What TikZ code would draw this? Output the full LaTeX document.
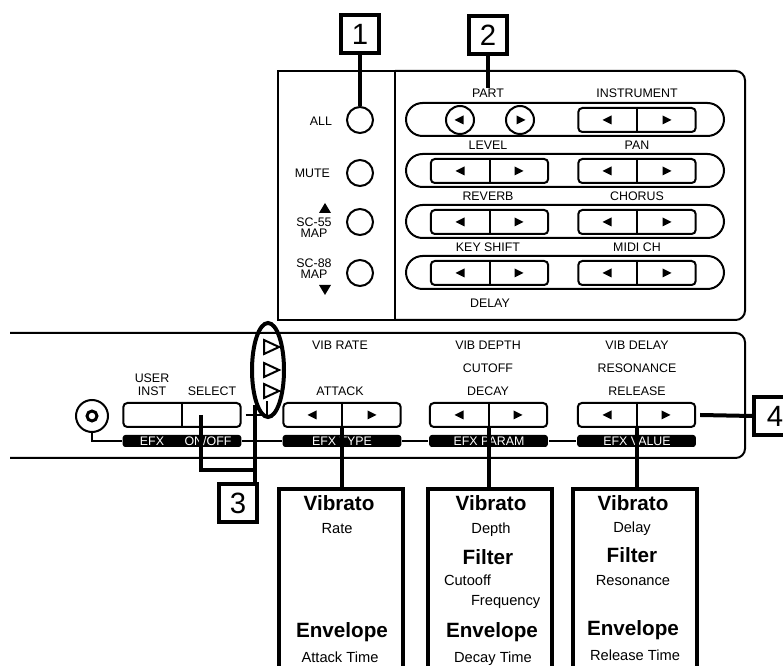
\documentclass[tikz,border=0pt]{standalone}
\usepackage{fontspec}
\setmainfont{Liberation Sans}
\usetikzlibrary{shapes.geometric}

\tikzset{
  tril/.pic={\fill (4.5,-4.5) -- (-4.5,0) -- (4.5,4.5) -- cycle;},
  trir/.pic={\fill (-4.5,-4.5) -- (4.5,0) -- (-4.5,4.5) -- cycle;},
  triu/.pic={\fill (-6,5) -- (0,-5) -- (6,5) -- cycle;},
  trid/.pic={\fill (-6,-5) -- (0,5) -- (6,-5) -- cycle;},
  trio/.pic={\draw[line width=1.5pt] (-7,-7) -- (8,0) -- (-7,7) -- cycle;},
}

\begin{document}
\begin{tikzpicture}[x=0.75pt, y=-0.75pt, line width=1.5pt,
  lbl/.style={font=\fontsize{9.3}{8.5}\selectfont, inner sep=0pt},
  btn/.style={draw, circle, minimum size=19.5pt, inner sep=0pt},
  pbtn/.style={draw, circle, minimum size=21pt, inner sep=0pt},
  pair/.style={draw, rounded corners=3pt, minimum width=88pt, minimum height=18pt, inner sep=0pt},
  bar/.style={fill=black, rounded corners=2pt, minimum width=89pt, minimum height=9pt, inner sep=0pt},
  bartxt/.style={text=white, font=\fontsize{9.3}{10}\selectfont, inner sep=0pt},
  callout/.style={draw, line width=3pt, minimum width=29pt, minimum height=28pt, inner sep=0pt, font=\fontsize{22}{22}\selectfont},
  fat/.style={line width=3pt},
  info/.style={draw, line width=3pt, minimum width=93pt, minimum height=150pt, anchor=north, inner sep=0pt},
  big/.style={font=\fontsize{15.5}{16}\selectfont\bfseries, text height=11pt, text depth=0pt, inner sep=0pt},
  small/.style={font=\fontsize{11}{12}\selectfont, text height=7.9pt, text depth=0pt, inner sep=0pt}]
\useasboundingbox (0,0) rectangle (783,666);
\clip (0,0) rectangle (783,666);

% upper panel
\draw (278,71) rectangle (395,320);
\draw[rounded corners=7pt] (395,71) -- (745,71) -- (745,320) -- (395,320);

\node[btn] (all) at (360,120) {};
\node[btn] (mute) at (360,173) {};
\node[btn] (sc55) at (360,222) {};
\node[btn] (sc88) at (360,273) {};
\node[lbl, anchor=east] (allL) at (333,121) {ALL};
\node[lbl, anchor=east] (muteL) at (331,173) {MUTE};
\node[lbl, align=center] (sc55L) at (314,228) {SC-55\\MAP};
\node[lbl, align=center] (sc88L) at (314,269) {SC-88\\MAP};
\pic at (325,208) {triu};
\pic at (325,290) {trid};

\draw[rounded corners=12.4pt] (406,103) rectangle (724,136);
\draw[rounded corners=12.4pt] (406,154) rectangle (724,187);
\draw[rounded corners=12.4pt] (406,205) rectangle (724,238);
\draw[rounded corners=12.4pt] (406,256) rectangle (724,289);

\node[lbl] (partL) at (488,93) {PART};
\node[lbl] (instL) at (637,93) {INSTRUMENT};
\node[lbl] (levelL) at (488,145) {LEVEL};
\node[lbl] (panL) at (637,145) {PAN};
\node[lbl] (revL) at (488,196) {REVERB};
\node[lbl] (choL) at (637,196) {CHORUS};
\node[lbl] (keyL) at (488,247) {KEY SHIFT};
\node[lbl] (midiL) at (637,247) {MIDI CH};
\node[lbl] (delayL) at (490,303) {DELAY};

\node[pbtn] (partl) at (460,120) {};
\node[pbtn] (partr) at (520,120) {};
\pic at (459,120) {tril};
\pic at (521,120) {trir};
\node[pair] (inst) at (637,120) {};
\node[pair] (level) at (489.5,171) {};
\node[pair] (pan) at (637,171) {};
\node[pair] (rev) at (489.5,222) {};
\node[pair] (cho) at (637,222) {};
\node[pair] (key) at (489.5,273) {};
\node[pair] (midi) at (637,273) {};
\draw (inst.north) -- (inst.south);
\draw (level.north) -- (level.south);
\draw (pan.north) -- (pan.south);
\draw (rev.north) -- (rev.south);
\draw (cho.north) -- (cho.south);
\draw (key.north) -- (key.south);
\draw (midi.north) -- (midi.south);
\pic at (607,120) {tril}; \pic at (667,120) {trir};
\pic at (460,171) {tril}; \pic at (519,171) {trir};
\pic at (607,171) {tril}; \pic at (667,171) {trir};
\pic at (460,222) {tril}; \pic at (519,222) {trir};
\pic at (607,222) {tril}; \pic at (667,222) {trir};
\pic at (460,273) {tril}; \pic at (519,273) {trir};
\pic at (607,273) {tril}; \pic at (667,273) {trir};

\node[callout] (c1) at (360,34) {1};
\node[callout] (c2) at (488,35) {2};
\draw[fat] (c1) -- (all);
\draw[fat] (c2) -- (partL);

% lower panel
\draw[rounded corners=7pt] (10,333) -- (745,333) -- (745,458) -- (10,458);

\node[draw, circle, minimum size=24pt, inner sep=0pt] (jack) at (92,416) {};
\draw[line width=2.2pt] (jack.center) circle (5);

\node[lbl] (userL) at (152,378) {USER};
\node[lbl] (instL2) at (152,391) {INST};
\node[lbl] (selL) at (212,391) {SELECT};
\node[lbl] (vrateL) at (340,345) {VIB RATE};
\node[lbl] (atkL) at (340,391) {ATTACK};
\node[lbl] (vdepL) at (488,345) {VIB DEPTH};
\node[lbl] (cutL) at (488,368) {CUTOFF};
\node[lbl] (decL) at (488,391) {DECAY};
\node[lbl] (vdelL) at (637,345) {VIB DELAY};
\node[lbl] (resL) at (637,368) {RESONANCE};
\node[lbl] (relL) at (637,391) {RELEASE};

\node[pair] (usel) at (182,415) {};
\node[pair] (atk) at (342,415) {};
\node[pair] (dec) at (488.5,415) {};
\node[pair] (rel) at (636.5,415) {};
\draw (usel.north) -- (usel.south);
\draw (atk.north) -- (atk.south);
\draw (dec.north) -- (dec.south);
\draw (rel.north) -- (rel.south);
\pic at (312,415) {tril}; \pic at (372,415) {trir};
\pic at (459,415) {tril}; \pic at (518,415) {trir};
\pic at (607,415) {tril}; \pic at (666,415) {trir};

\node[bar] (b1) at (182,441) {};
\node[bar] (b2) at (342,441) {};
\node[bar] (b3) at (488.5,441) {};
\node[bar] (b4) at (636.5,441) {};
\node[bartxt] (efxL) at (152,441) {EFX};
\node[bartxt] (onoffL) at (208,441) {ON/OFF};
\node[bartxt] (typeL) at (342,441) {EFX TYPE};
\node[bartxt] (paramL) at (489,441) {EFX PARAM};
\node[bartxt] (valueL) at (637,441) {EFX VALUE};
\draw (jack.south) |- (b1.west);
\draw (b1.east) -- (b2.west);
\draw (b2.east) -- (b3.west);
\draw (b3.east) -- (b4.west);

\node[draw, ellipse, line width=3pt, minimum width=24pt, minimum height=70.5pt, inner sep=0pt] (ell) at (268,370) {};
\pic at (271,347) {trio};
\pic at (271,370) {trio};
\pic at (271,391) {trio};
\coordinate (hook) at (267,401);
\draw ([xshift=3pt]usel.east) -| (hook);

\node[callout] (c3) at (238,503) {3};
\node[callout, minimum width=31pt] (c4) at (775,416) {4};
\coordinate (selpt) at (201,415);
\coordinate (j3) at (256.7,470);
\draw[fat] (selpt) |- (j3);
\draw[fat] (ell.south west) -- (ell.south west |- c3.north);
\draw[fat] ([xshift=3pt]rel.east) -- (c4.west);

% info boxes
\node[info] (vA) at (341,487) {};
\node[info] (vB) at (490,487) {};
\node[info] (vC) at (635,487) {};
\draw[fat] (atk.south) -- (atk.south |- vA.north);
\draw[fat] (dec.south) -- (dec.south |- vB.north);
\draw[fat] (rel.south) -- (rel.south |- vC.north);

\node[big] (vA1) at (339,503) {Vibrato};
\node[small] (vA2) at (337,528) {Rate};
\node[big] (vA3) at (342,630) {Envelope};
\node[small] (vA4) at (340,657) {Attack Time};

\node[big] (vB1) at (491,503) {Vibrato};
\node[small] (vB2) at (491,528) {Depth};
\node[big] (vB3) at (488,557) {Filter};
\node[small, anchor=west] (vB4) at (443,580) {Cutooff};
\node[small, anchor=west] (vB5) at (470,600) {Frequency};
\node[big] (vB6) at (492,630) {Envelope};
\node[small] (vB7) at (493,657) {Decay Time};

\node[big] (vC1) at (633,503) {Vibrato};
\node[small] (vC2) at (632,527) {Delay};
\node[big] (vC3) at (632,555) {Filter};
\node[small] (vC4) at (633,580) {Resonance};
\node[big] (vC5) at (633,628) {Envelope};
\node[small] (vC6) at (635,655) {Release Time};
\end{tikzpicture}
\end{document}
